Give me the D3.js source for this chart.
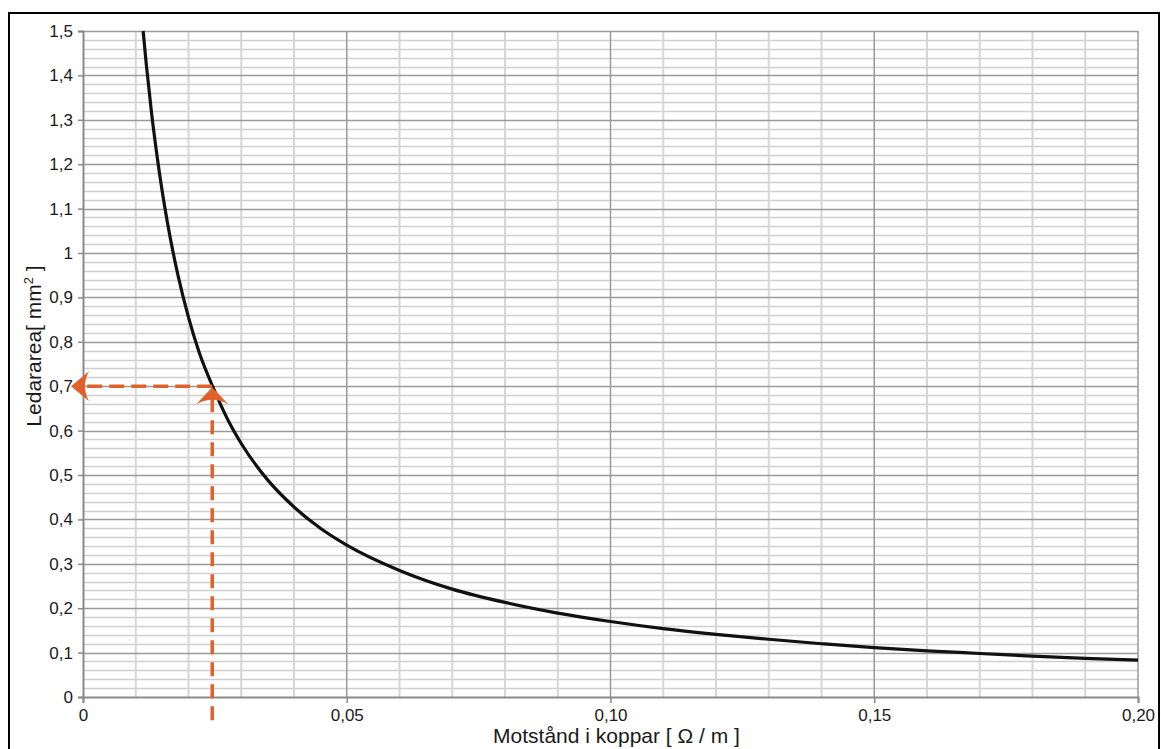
<!DOCTYPE html>
<html>
<head>
<meta charset="utf-8">
<script src="https://cdn.jsdelivr.net/npm/d3@7"></script>
<style>
  body { margin: 0; background: #fff; }
  text { font-family: "Liberation Sans", Arial, sans-serif; fill: #1a1a1a; }
  .tick text { font-size: 17px; }
</style>
</head>
<body>
<svg id="chart" width="1161" height="749"></svg>
<script>
// resistance per metre (x) and read-off conductor area (y)
const resistance = [0.0114, 0.012, 0.013, 0.014, 0.015, 0.016, 0.018, 0.020, 0.022, 0.025, 0.028, 0.030,
    0.035, 0.040, 0.045, 0.050, 0.060, 0.070, 0.080, 0.090, 0.100, 0.110, 0.120, 0.130, 0.140, 0.150,
    0.160, 0.170, 0.180, 0.190, 0.200];
const area = [1.50, 1.425, 1.315, 1.222, 1.140, 1.069, 0.950, 0.855, 0.777, 0.688, 0.612, 0.571,
    0.489, 0.428, 0.380, 0.342, 0.285, 0.243, 0.213, 0.189, 0.170, 0.154, 0.141, 0.130, 0.120, 0.111,
    0.104, 0.098, 0.092, 0.087, 0.083];
const xTicks = [0, 0.05, 0.10, 0.15, 0.20];
const xTickLabels = ["0", "0,05", "0,10", "0,15", "0,20"];
const yTicks = [0, 0.1, 0.2, 0.3, 0.4, 0.5, 0.6, 0.7, 0.8, 0.9, 1, 1.1, 1.2, 1.3, 1.4, 1.5];
// the example read-off point
const markR = 0.0245;
const markA = 0.7;

const svg = d3.select("#chart");
const plotLeft = 83, plotRight = 1138, plotTop = 31, plotBottom = 697;

// outer frame
svg.append("rect")
    .attr("x", 9).attr("y", 13)
    .attr("width", 1150).attr("height", 780)
    .attr("fill", "none").attr("stroke", "#000").attr("stroke-width", 2);

var x = d3.scaleLinear().domain([0, 0.2]).range([plotLeft, plotRight]);
var y = d3.scaleLinear().domain([0, 1.5]).range([plotBottom, plotTop]);

//Grid lines, minor first then major on top
var grid = svg.append("g");
var vMinor = d3.range(1, 20).map(d => d / 100).filter(d => Math.round(d * 100) % 5 != 0);
var hMinor = d3.range(1, 75).map(d => d * 0.02).filter(d => Math.round(d * 50) % 5 != 0);

grid.selectAll(".hmin").data(hMinor).enter().append("line")
    .attr("x1", plotLeft).attr("x2", plotRight)
    .attr("y1", d => Math.round(y(d)) + 0.5).attr("y2", d => Math.round(y(d)) + 0.5)
    .attr("stroke", "#cfcfcf").attr("stroke-width", 1.5);
grid.selectAll(".vmin").data(vMinor).enter().append("line")
    .attr("x1", d => x(d)).attr("x2", d => x(d))
    .attr("y1", plotTop).attr("y2", plotBottom)
    .attr("stroke", "#d6d6d6").attr("stroke-width", 2);
grid.selectAll(".hmaj").data(yTicks.slice(1)).enter().append("line")
    .attr("x1", plotLeft).attr("x2", plotRight)
    .attr("y1", d => Math.round(y(d)) + 0.5).attr("y2", d => Math.round(y(d)) + 0.5)
    .attr("stroke", "#9a9a9a").attr("stroke-width", 1.5);
grid.selectAll(".vmaj").data(xTicks.slice(1)).enter().append("line")
    .attr("x1", d => x(d)).attr("x2", d => x(d))
    .attr("y1", plotTop).attr("y2", plotBottom)
    .attr("stroke", "#9a9a9a").attr("stroke-width", 1.5);

//Axes
var xAxis = d3.axisBottom(x).tickValues(xTicks)
    .tickFormat((d, i) => xTickLabels[i]).tickSize(6).tickPadding(6);
var yAxis = d3.axisLeft(y).tickValues(yTicks)
    .tickFormat(d => String(Math.round(d * 10) / 10).replace(".", ",")).tickSize(5).tickPadding(5);

var gx = svg.append("g").attr("transform", "translate(0," + plotBottom + ")").call(xAxis);
var gy = svg.append("g").attr("transform", "translate(" + plotLeft + ",0)").call(yAxis);
[gx, gy].forEach(function(g) {
    g.attr("font-size", 17);
    g.select(".domain").attr("stroke", "#8a8a8a").attr("stroke-width", 2);
    g.selectAll(".tick line").attr("stroke", "#8a8a8a").attr("stroke-width", 1.5);
    g.selectAll(".tick text").style("font-size", "17px").attr("fill", "#1a1a1a")
        .attr("font-family", "Liberation Sans, Arial, sans-serif");
});

//Curve
svg.append("clipPath").attr("id", "plotclip")
    .append("rect").attr("x", plotLeft).attr("y", plotTop - 1)
    .attr("width", plotRight - plotLeft + 2).attr("height", plotBottom - plotTop + 1);

var line = d3.line()
    .x((d, i) => x(resistance[i]))
    .y((d, i) => y(area[i]))
    .curve(d3.curveMonotoneX);

svg.append("path")
    .datum(area)
    .attr("d", line)
    .attr("clip-path", "url(#plotclip)")
    .attr("fill", "none")
    .attr("stroke", "#111")
    .attr("stroke-width", 3.2);

//Orange read-off arrows
const orange = "#e0622a";
var mx = x(markR), my = y(markA);
var lx = plotLeft - 12;
svg.append("line")
    .attr("x1", mx).attr("x2", lx + 12)
    .attr("y1", my).attr("y2", my)
    .attr("stroke", orange).attr("stroke-width", 3.5).attr("stroke-dasharray", "15,7");
svg.append("line")
    .attr("x1", mx).attr("x2", mx)
    .attr("y1", my + 12).attr("y2", plotBottom + 25)
    .attr("stroke", orange).attr("stroke-width", 3.5).attr("stroke-dasharray", "14,8");

// left-pointing arrowhead at the y axis
svg.append("path")
    .attr("d", "M" + lx + "," + my + " L" + (lx + 18) + "," + (my - 15) +
        " Q" + (lx + 10) + "," + my + " " + (lx + 18) + "," + (my + 15) + " Z")
    .attr("fill", orange);
// up-pointing arrowhead on the curve
var ty = my + 1;
svg.append("path")
    .attr("d", "M" + mx + "," + ty + " L" + (mx - 16) + "," + (ty + 17) +
        " Q" + mx + "," + (ty + 8) + " " + (mx + 16) + "," + (ty + 17) + " Z")
    .attr("fill", orange);

//Axis titles
svg.append("text")
    .attr("x", (plotLeft + plotRight) / 2 + 6).attr("y", 743)
    .attr("text-anchor", "middle").attr("font-size", 21)
    .text("Motstånd i koppar [ Ω / m ]");

var yt = svg.append("text")
    .attr("transform", "translate(41,346) rotate(-90)")
    .attr("text-anchor", "middle").attr("font-size", 21);
yt.append("tspan").text("Ledararea[ mm");
yt.append("tspan").attr("font-size", 13).attr("dy", -8).text("2");
yt.append("tspan").attr("dy", 8).text(" ]");
</script>
</body>
</html>
